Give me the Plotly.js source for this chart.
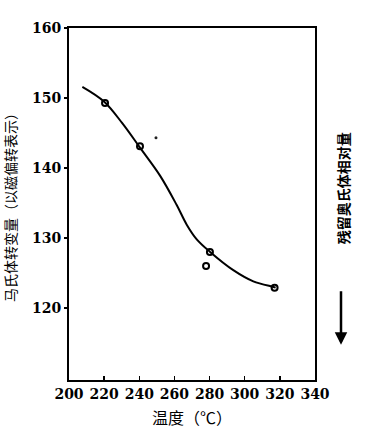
<!DOCTYPE html>
<html>
<head>
<meta charset="utf-8">
<script src="https://cdn.plot.ly/plotly-3.0.1.min.js"></script>
<style>html,body{margin:0;padding:0;background:#fff;}</style>
</head>
<body>
<div id="chart" style="width:376px;height:436px;"></div>
<script>
// Measured points (open circles)
const pointTemps = [220.5, 240.4, 280.2, 278.0, 317.0];
const pointValues = [149.3, 143.1, 128.0, 126.0, 122.9];
// Hand-drawn fitted curve
const curveTemps = [207.6, 219.9, 230.3, 240.4, 251.8, 261.3, 267.0, 272.7, 280.3, 293.5, 304.9, 316.3, 317.6];
const curveValues = [151.6, 149.5, 146.4, 142.9, 138.9, 134.7, 131.9, 129.8, 128.0, 125.4, 123.8, 123.0, 122.9];
// Stray dot in the original print
const speckTemps = [249.5];
const speckValues = [144.3];
// Axis ticks
const xTicks = [200, 220, 240, 260, 280, 300, 320, 340];
const yTicks = [120, 130, 140, 150, 160];

const tickFont = {family: 'DejaVu Serif', size: 14, color: '#000', weight: 'bold'};
const cjk = 'Noto Sans CJK SC';

const traces = [
  {x: curveTemps, y: curveValues, mode: 'lines', line: {shape: 'spline', smoothing: 1, color: '#000', width: 2}, hoverinfo: 'skip', showlegend: false},
  {x: pointTemps, y: pointValues, mode: 'markers', marker: {symbol: 'circle-open', size: 6, color: '#000', line: {width: 2, color: '#000'}}, showlegend: false},
  {x: speckTemps, y: speckValues, mode: 'markers', marker: {symbol: 'circle', size: 3, color: '#222'}, hoverinfo: 'skip', showlegend: false}
];

const layout = {
  width: 376, height: 436,
  margin: {l: 69, r: 61, t: 28, b: 56},
  paper_bgcolor: '#fff', plot_bgcolor: '#fff',
  font: {family: 'DejaVu Serif', color: '#000'},
  showlegend: false,
  xaxis: {
    range: [200, 340], tickvals: xTicks, ticktext: xTicks.map(String),
    showgrid: false, zeroline: false,
    showline: true, mirror: true, linecolor: '#000', linewidth: 2,
    ticks: 'inside', ticklen: 4, tickwidth: 1.5, tickcolor: '#000',
    tickfont: tickFont,
    title: {text: '温度（℃）', font: {family: cjk, size: 16, color: '#000'}, standoff: 12}
  },
  yaxis: {
    range: [109.7, 160], tickvals: yTicks, ticktext: yTicks.map(String),
    showgrid: false, zeroline: false,
    showline: true, mirror: true, linecolor: '#000', linewidth: 2,
    ticks: 'outside', ticklen: 3, tickwidth: 1.5, tickcolor: '#000',
    tickfont: tickFont,
    title: {text: '马氏体转变量（以磁偏转表示）', font: {family: cjk, size: 14, color: '#000'}, standoff: 12}
  },
  annotations: [
    {xref: 'paper', yref: 'paper', x: 1, xanchor: 'center', xshift: 28, y: 0.545, yanchor: 'middle',
     text: '残留奥氏体相对量', textangle: -90, showarrow: false,
     font: {family: cjk, size: 14, color: '#000', weight: 'bold'}},
    {xref: 'paper', yref: 'paper', x: 1, xshift: 26, y: 0.1, ax: 0, ay: -55,
     text: '', showarrow: true, arrowhead: 2, arrowsize: 1, arrowwidth: 2.5, arrowcolor: '#000'}
  ]
};

Plotly.newPlot('chart', traces, layout, {displayModeBar: false, staticPlot: true});
</script>
</body>
</html>
